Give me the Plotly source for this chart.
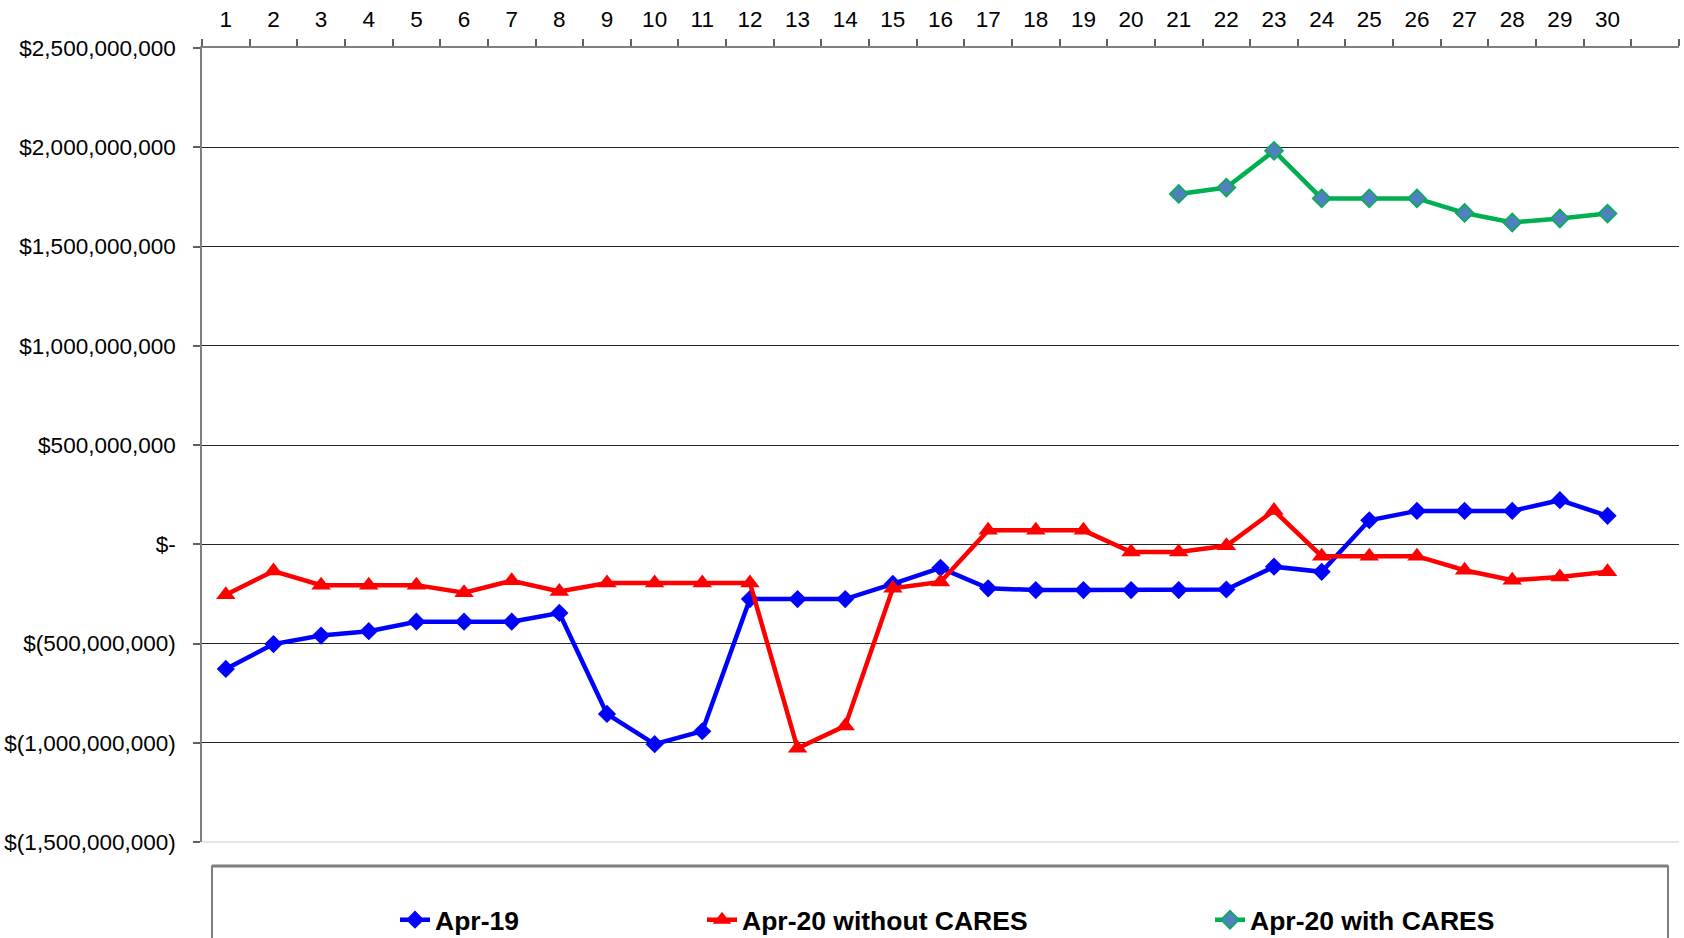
import plotly.graph_objects as go

# Day of month (x axis, shown on top)
days = list(range(1, 31))
day_labels = [str(d) for d in days]

# Daily balance, April 2019
apr19 = [-628e6, -503e6, -460e6, -438e6, -390e6, -390e6, -390e6, -346e6, -855e6, -1007e6,
         -942e6, -276e6, -276e6, -276e6, -200e6, -119e6, -222e6, -231e6, -231e6, -231e6,
         -231e6, -228e6, -113e6, -139e6, 121e6, 168e6, 168e6, 168e6, 222e6, 143e6]

# Daily balance, April 2020 without CARES Act receipts
apr20_without = [-254e6, -135e6, -206e6, -206e6, -206e6, -244e6, -184e6, -238e6, -195e6, -195e6,
                 -195e6, -195e6, -1028e6, -915e6, -222e6, -190e6, 70e6, 70e6, 70e6, -39e6,
                 -39e6, -8e6, 170e6, -60e6, -60e6, -60e6, -131e6, -181e6, -165e6, -139e6]

# Daily balance, April 2020 with CARES Act receipts (from day 21)
cares_days = list(range(21, 31))
apr20_with = [1765e6, 1797e6, 1982e6, 1742e6, 1742e6, 1742e6, 1669e6, 1621e6, 1641e6, 1666e6]

# Y axis ticks and their accounting-style labels
y_ticks = [-1.5e9, -1.0e9, -0.5e9, 0, 0.5e9, 1.0e9, 1.5e9, 2.0e9, 2.5e9]
y_labels = ["$(1,500,000,000)", "$(1,000,000,000)", "$(500,000,000)", "$-",
            "$500,000,000", "$1,000,000,000", "$1,500,000,000", "$2,000,000,000",
            "$2,500,000,000"]

FONT = "Liberation Sans, Arial, sans-serif"

fig = go.Figure()

fig.add_trace(go.Scatter(
    x=days, y=apr19, name="Apr-19", mode="lines+markers",
    line=dict(color="#0000FF", width=4.5),
    marker=dict(symbol="diamond", size=14, color="#0000FF"),
    legend="legend",
))
fig.add_trace(go.Scatter(
    x=days, y=apr20_without, name="Apr-20 without CARES", mode="lines+markers",
    line=dict(color="#FF0000", width=4.5),
    marker=dict(symbol="triangle-up", size=17, color="#FF0000"),
    legend="legend2",
))
fig.add_trace(go.Scatter(
    x=cares_days, y=apr20_with, name="Apr-20 with CARES", mode="lines+markers",
    line=dict(color="#00B050", width=4.5),
    marker=dict(symbol="diamond", size=14, color="#4F81BD",
                line=dict(color="#00B050", width=1.5)),
    legend="legend3",
))

W, H = 1684, 938
L, R, T, B = 202, 5, 48, 96
pw, ph = W - L - R, H - T - B


def px_x(p):
    return (p - L) / pw


def px_y(p):
    return (H - B - p) / ph


legend_common = dict(
    orientation="h", yanchor="middle", xanchor="left",
    font=dict(family=FONT, size=26.5, color="#000000", weight="bold"),
    bgcolor="rgba(0,0,0,0)", borderwidth=0,
)

fig.update_layout(
    width=W, height=H,
    margin=dict(l=L, r=R, t=T, b=B, autoexpand=False),
    paper_bgcolor="white", plot_bgcolor="white",
    font=dict(family=FONT, color="#000000"),
    showlegend=True,
    legend=dict(x=px_x(395), y=px_y(920), **legend_common),
    legend2=dict(x=px_x(702), y=px_y(920), **legend_common),
    legend3=dict(x=px_x(1210), y=px_y(920), **legend_common),
    xaxis=dict(
        side="top", range=[0.5, 31.5],
        tickmode="array", tickvals=days, ticktext=day_labels,
        ticks="", showgrid=False, zeroline=False,
        showline=True, linecolor="#808080", linewidth=1.5,
        tickfont=dict(family=FONT, size=22.5, color="#000000"),
        ticklabelstandoff=10,
        minor=dict(tick0=0.5, dtick=1, ticks="outside", ticklen=7,
                   tickwidth=1.5, tickcolor="#606060", showgrid=False),
    ),
    yaxis=dict(
        range=[-1.5e9, 2.5e9],
        tickmode="array", tickvals=y_ticks, ticktext=y_labels,
        ticks="outside", ticklen=7, tickwidth=1.5, tickcolor="#606060",
        showgrid=True, gridcolor="#262626", gridwidth=1,
        zeroline=False,
        showline=True, linecolor="#808080", linewidth=1.5,
        tickfont=dict(family=FONT, size=22.5, color="#000000"),
        ticklabelstandoff=13,
    ),
    shapes=[
        # soft bottom edge of the plotting area
        dict(type="line", xref="paper", yref="paper", x0=0, x1=1, y0=0, y1=0,
             line=dict(color="#E6E6E6", width=2), layer="above"),
        # legend frame
        dict(type="rect", xref="paper", yref="paper",
             x0=px_x(212), x1=px_x(1668), y0=px_y(866), y1=px_y(960),
             line=dict(color="#555555", width=1.5), fillcolor="rgba(0,0,0,0)",
             layer="below"),
        dict(type="line", xref="paper", yref="paper",
             x0=px_x(212), x1=px_x(1668), y0=px_y(866), y1=px_y(866),
             line=dict(color="#7F7F7F", width=3)),
    ],
)

fig.write_html("out.html")
